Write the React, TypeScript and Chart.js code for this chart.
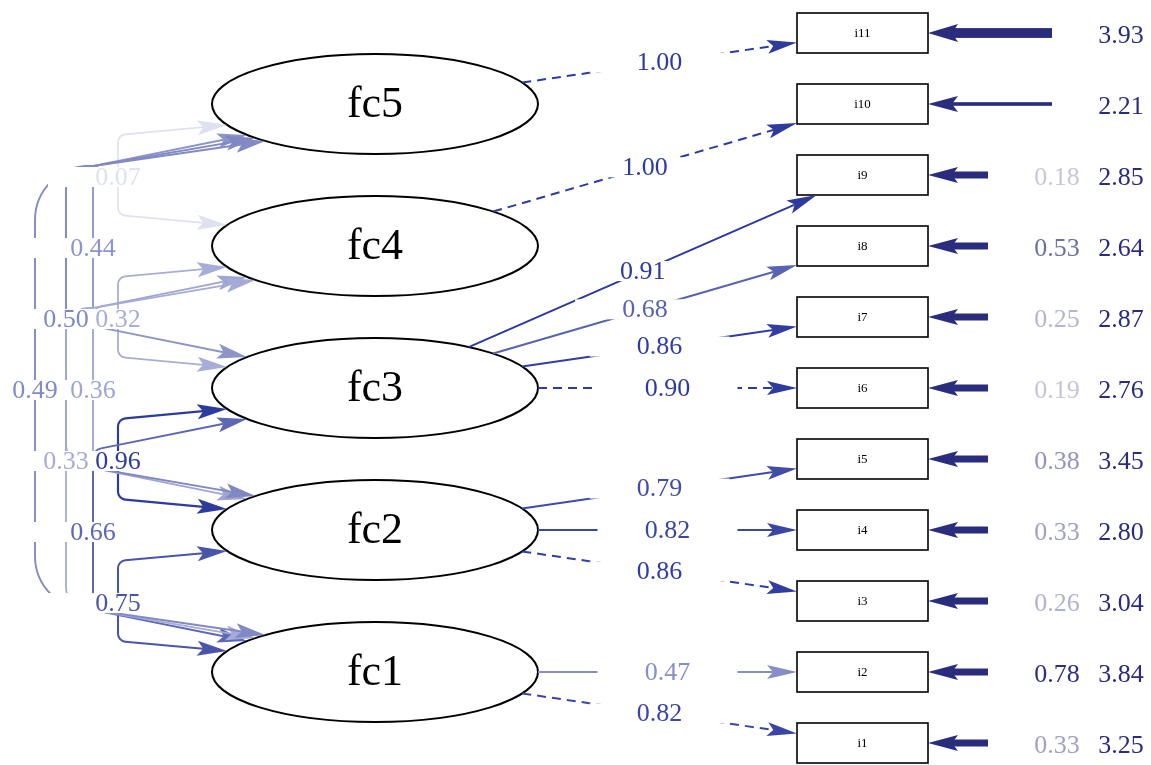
import React, { useEffect, useRef } from "react";
import { Chart, registerables } from "chart.js";

Chart.register(...registerables);

// ---------------- data ----------------
const factorNames = ["fc1", "fc2", "fc3", "fc4", "fc5"];
const itemNames = ["i1", "i2", "i3", "i4", "i5", "i6", "i7", "i8", "i9", "i10", "i11"];
// factor (index into factorNames) that each item loads on
const itemFactor = [0, 0, 1, 1, 1, 2, 2, 2, 2, 3, 4];
const loadings = [0.82, 0.47, 0.86, 0.82, 0.79, 0.9, 0.86, 0.68, 0.91, 1.0, 1.0];
const loadingFixed = [true, false, true, false, false, true, false, false, false, true, true];
const residualVars: (number | null)[] = [0.33, 0.78, 0.26, 0.33, 0.38, 0.19, 0.25, 0.53, 0.18, null, null];
const intercepts = [3.25, 3.84, 3.04, 2.8, 3.45, 2.76, 2.87, 2.64, 2.85, 2.21, 3.93];
// factor covariances (upper factor, lower factor, value)
const covUpper = [4, 3, 2, 1, 4, 3, 2, 4, 3, 4];
const covLower = [3, 2, 1, 0, 2, 1, 0, 1, 0, 0];
const covValues = [0.07, 0.32, 0.96, 0.75, 0.44, 0.36, 0.66, 0.5, 0.33, 0.49];

// ---------------- layout / style ----------------
const CW = 1151;
const CH = 765;
const FACTOR_X = 375;
const ITEM_X = 862.5;
const HUB_X = 93;
const ADJ_X = 118;
const SPAN_X: Record<number, number> = { 2: 93, 3: 66, 4: 35 };
const RX = 163;
const RY = 50;
const BOX_HW = 65.5;
const BOX_HH = 20;
const Y_MIN = -0.4648;
const Y_MAX = 10.3098;
const RES_TAIL_SHORT = 988;
const RES_TAIL_LONG = 1052;
const RES_LABEL_X = 1057;
const INT_LABEL_X = 1121;
const FONT = '"Liberation Serif", "Times New Roman", serif';

const EDGE_RGB = [45, 58, 158];
const NAVY_RGB = [42, 44, 125];

const factorRow = (f: number) => 9 - 2 * f;
const itemRow = (k: number) => 10 - k;

function fade(rgb: number[], a: number) {
  const t = Math.max(0, Math.min(1, a));
  return `rgb(${rgb.map((c) => Math.round(255 - (255 - c) * t)).join(",")})`;
}
const strength = (v: number) => 0.08 + 1.05 * v;
const fmt = (v: number) => v.toFixed(2);

type Pt = { x: number; y: number };

function arrowHead(ctx: CanvasRenderingContext2D, tip: Pt, ux: number, uy: number, L: number, W: number, color: string) {
  const nx = -uy;
  const ny = ux;
  ctx.beginPath();
  ctx.moveTo(tip.x, tip.y);
  ctx.lineTo(tip.x - L * ux + W * nx, tip.y - L * uy + W * ny);
  ctx.lineTo(tip.x - 0.8 * L * ux, tip.y - 0.8 * L * uy);
  ctx.lineTo(tip.x - L * ux - W * nx, tip.y - L * uy - W * ny);
  ctx.closePath();
  ctx.fillStyle = color;
  ctx.fill();
}

function unit(a: Pt, b: Pt) {
  const dx = b.x - a.x;
  const dy = b.y - a.y;
  const l = Math.hypot(dx, dy) || 1;
  return { ux: dx / l, uy: dy / l };
}

const diagramPlugin = {
  id: "semDiagram",
  beforeDraw(chart: any) {
    const ctx = chart.ctx as CanvasRenderingContext2D;
    ctx.save();
    ctx.fillStyle = "#ffffff";
    ctx.fillRect(0, 0, chart.width, chart.height);
    ctx.restore();
  },
  afterDatasetsDraw(chart: any) {
    const ctx = chart.ctx as CanvasRenderingContext2D;
    const xs = chart.scales.x;
    const ys = chart.scales.y;
    const P = (x: number, r: number): Pt => ({ x: xs.getPixelForValue(x), y: ys.getPixelForValue(r) });
    const X = (x: number) => xs.getPixelForValue(x);
    const F = factorNames.map((_, f) => P(FACTOR_X, factorRow(f)));
    const I = itemNames.map((_, k) => P(ITEM_X, itemRow(k)));
    const labels: { x: number; y: number; text: string; color: string }[] = [];

    ctx.save();
    ctx.textAlign = "center";
    ctx.textBaseline = "middle";

    // ---- nodes ----
    F.forEach((c, f) => {
      ctx.beginPath();
      ctx.ellipse(c.x, c.y, RX, RY, 0, 0, Math.PI * 2);
      ctx.fillStyle = "#ffffff";
      ctx.fill();
      ctx.lineWidth = 2;
      ctx.strokeStyle = "#000000";
      ctx.stroke();
      ctx.fillStyle = "#000000";
      ctx.font = `44px ${FONT}`;
      ctx.fillText(factorNames[f], c.x, c.y + 1);
    });
    I.forEach((c, k) => {
      ctx.lineWidth = 1.6;
      ctx.strokeStyle = "#000000";
      ctx.strokeRect(c.x - BOX_HW, c.y - BOX_HH, BOX_HW * 2, BOX_HH * 2);
      ctx.fillStyle = "#000000";
      ctx.font = `13px ${FONT}`;
      ctx.fillText(itemNames[k], c.x, c.y + 1);
    });

    // ---- loadings ----
    itemNames.forEach((_, k) => {
      const C = F[itemFactor[k]];
      const B = I[k];
      const dx = B.x - C.x;
      const dy = B.y - C.y;
      const te = 1 / Math.sqrt((dx / RX) ** 2 + (dy / RY) ** 2);
      const S = { x: C.x + te * dx, y: C.y + te * dy };
      const s = Math.min(BOX_HW / Math.abs(dx), dy === 0 ? Infinity : BOX_HH / Math.abs(dy));
      const E = { x: B.x - s * dx, y: B.y - s * dy };
      const col = fade(EDGE_RGB, strength(loadings[k]));
      const { ux, uy } = unit(S, E);
      ctx.strokeStyle = col;
      ctx.lineWidth = 2;
      ctx.setLineDash(loadingFixed[k] ? [9, 6] : []);
      ctx.beginPath();
      ctx.moveTo(S.x, S.y);
      ctx.lineTo(E.x - 24 * ux, E.y - 24 * uy);
      ctx.stroke();
      ctx.setLineDash([]);
      arrowHead(ctx, E, ux, uy, 30, 7, col);
      labels.push({ x: (S.x + E.x) / 2, y: (S.y + E.y) / 2, text: fmt(loadings[k]), color: col });
    });

    // ---- factor covariances ----
    const ellLeft = (c: Pt, dy: number): Pt => ({
      x: c.x - RX * Math.sqrt(Math.max(0, 1 - (dy / RY) ** 2)),
      y: c.y + dy,
    });
    covValues.forEach((v, i) => {
      const a = covUpper[i];
      const b = covLower[i];
      const A = F[a];
      const Bc = F[b];
      const span = a - b;
      const col = fade(EDGE_RGB, strength(v));
      let pts: Pt[];
      let radii: number[];
      let lx: number;
      if (span === 1) {
        const xv = X(ADJ_X);
        pts = [ellLeft(A, 21), { x: xv, y: A.y + 31 }, { x: xv, y: Bc.y - 31 }, ellLeft(Bc, -21)];
        radii = [0, 8, 8, 0];
        lx = xv;
      } else {
        const xv = X(SPAN_X[span]);
        const hx = X(HUB_X);
        const off = 25 + 3 * span;
        const HA = { x: hx, y: A.y + 62 };
        const HB = { x: hx, y: Bc.y - 62 };
        const tA = ellLeft(A, off);
        const tB = ellLeft(Bc, -off);
        if (Math.abs(xv - hx) < 1) {
          pts = [tA, HA, HB, tB];
          radii = [0, 10, 10, 0];
        } else {
          const r = hx - xv - 4;
          pts = [tA, HA, { x: xv, y: HA.y }, { x: xv, y: HB.y }, HB, tB];
          radii = [0, 3, r, r, 3, 0];
        }
        lx = xv;
      }
      const n = pts.length;
      const u0 = unit(pts[1], pts[0]);
      const u1 = unit(pts[n - 2], pts[n - 1]);
      ctx.strokeStyle = col;
      ctx.lineWidth = 1.6 + 0.6 * v;
      ctx.beginPath();
      ctx.moveTo(pts[0].x - 24 * u0.ux, pts[0].y - 24 * u0.uy);
      for (let j = 1; j < n - 1; j++) {
        ctx.arcTo(pts[j].x, pts[j].y, pts[j + 1].x, pts[j + 1].y, radii[j]);
      }
      ctx.lineTo(pts[n - 1].x - 24 * u1.ux, pts[n - 1].y - 24 * u1.uy);
      ctx.stroke();
      arrowHead(ctx, pts[0], u0.ux, u0.uy, 30, 7.5, col);
      arrowHead(ctx, pts[n - 1], u1.ux, u1.uy, 30, 7.5, col);
      labels.push({ x: lx, y: (A.y + Bc.y) / 2 + 2, text: fmt(v), color: col });
    });

    // ---- residual / intercept arrows ----
    itemNames.forEach((_, k) => {
      const B = I[k];
      const tip = { x: B.x + BOX_HW, y: B.y };
      const res = residualVars[k];
      const hasRes = res !== null;
      const tail = X(hasRes ? RES_TAIL_SHORT : RES_TAIL_LONG);
      const w = hasRes ? 7 : Math.max(3, (intercepts[k] - 1.2) * 3.6);
      const navy = fade(NAVY_RGB, 1);
      ctx.fillStyle = navy;
      ctx.fillRect(tip.x + 24, tip.y - w / 2, tail - tip.x - 24, w);
      arrowHead(ctx, tip, -1, 0, 30, Math.max(8, w / 2 + 4), navy);
      ctx.font = `26px ${FONT}`;
      if (hasRes) {
        ctx.fillStyle = fade(NAVY_RGB, 0.05 + 1.2 * (res as number));
        ctx.fillText(fmt(res as number), X(RES_LABEL_X), B.y + 3);
      }
      ctx.fillStyle = navy;
      ctx.fillText(fmt(intercepts[k]), X(INT_LABEL_X), B.y + 3);
    });

    // ---- edge labels (white backgrounds first, then text) ----
    ctx.fillStyle = "#ffffff";
    labels.forEach((l) => ctx.fillRect(l.x - 70, l.y - 10, 140, 20));
    ctx.font = `26px ${FONT}`;
    labels.forEach((l) => {
      ctx.fillStyle = l.color;
      ctx.fillText(l.text, l.x, l.y + 1);
    });
    ctx.restore();
  },
};

export default function App() {
  const ref = useRef<HTMLCanvasElement>(null);
  useEffect(() => {
    document.body.style.margin = "0";
    const canvas = ref.current;
    if (!canvas) return;
    const chart = new Chart(canvas, {
      type: "scatter",
      data: {
        datasets: [
          {
            label: "factors",
            data: factorNames.map((_, f) => ({ x: FACTOR_X, y: factorRow(f) })),
            pointRadius: 0,
          },
          {
            label: "items",
            data: itemNames.map((_, k) => ({ x: ITEM_X, y: itemRow(k) })),
            pointRadius: 0,
          },
        ],
      },
      options: {
        animation: false,
        responsive: true,
        maintainAspectRatio: false,
        layout: { padding: 0 },
        events: [],
        plugins: { legend: { display: false }, tooltip: { enabled: false } },
        scales: {
          x: { type: "linear", min: 0, max: CW, display: false },
          y: { type: "linear", min: Y_MIN, max: Y_MAX, reverse: true, display: false },
        },
      },
      plugins: [diagramPlugin],
    });
    return () => chart.destroy();
  }, []);
  return (
    <div style={{ position: "absolute", left: 0, top: 0, width: CW, height: CH, background: "#ffffff" }}>
      <canvas ref={ref} />
    </div>
  );
}
